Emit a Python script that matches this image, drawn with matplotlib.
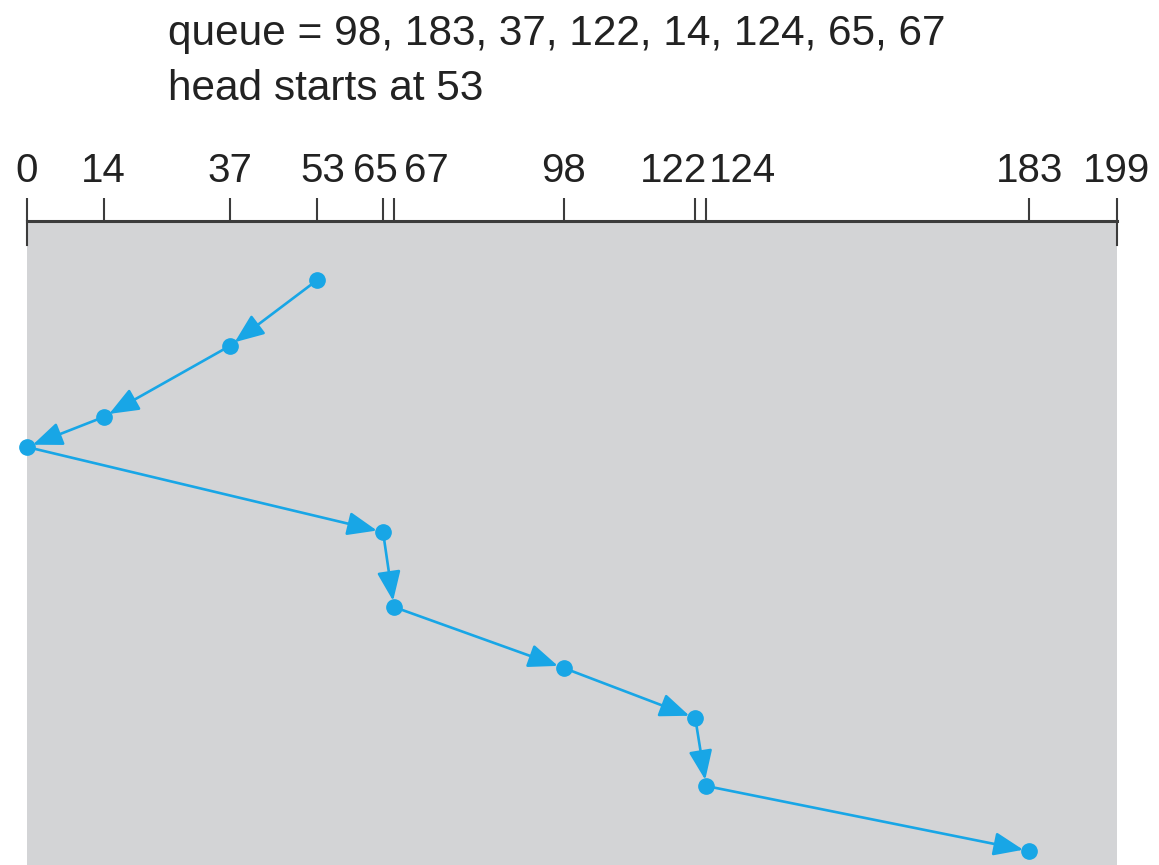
import matplotlib
matplotlib.use("Agg")
import matplotlib.pyplot as plt

plt.rcParams['font.family'] = ['Liberation Sans', 'DejaVu Sans']

# request queue and head start (SCAN scheduling)
queue = [98, 183, 37, 122, 14, 124, 65, 67]
head_start = 53
max_cyl = 199

# order in which cylinders are visited, and the time at which each is reached
visit_order = [53, 37, 14, 0, 65, 67, 98, 122, 124, 183]
visit_time = [59, 125, 196, 226, 311, 386, 447, 497, 565, 630]
time_end = 644

tick_values = [0, 14, 37, 53, 65, 67, 98, 122, 124, 183, 199]
# small sideways nudges (in pixels) so crowded labels do not overlap
label_shift = {53: 6, 65: -8, 67: 32, 122: -22, 124: 36}

blue = '#18a6e6'
dark = '#3c3c3c'

fig = plt.figure(figsize=(11.59, 8.65), dpi=100)
ax = fig.add_axes([27 / 1159, 0, 1090 / 1159, time_end / 865])
ax.set_facecolor('#d3d4d6')
ax.set_xlim(0, max_cyl)
ax.set_ylim(time_end, 0)

for side in ['left', 'right', 'bottom']:
    ax.spines[side].set_visible(False)
ax.spines['top'].set_color(dark)
ax.spines['top'].set_linewidth(2.2)

ax.set_yticks([])
ax.xaxis.set_ticks_position('top')
ax.set_xticks(tick_values)
ax.tick_params(axis='x', direction='out', length=16.5, width=1.5, color=dark,
               labeltop=False, labelbottom=False)

# end marks go down into the shaded area too
for v in [0, max_cyl]:
    ax.axvline(v, ymin=1 - 24 / time_end, ymax=1, color=dark, lw=1.5, clip_on=False)

for v in tick_values:
    ax.annotate(str(v), xy=(v, 1), xycoords=('data', 'axes fraction'),
                xytext=(label_shift.get(v, 0) * 0.72, 28), textcoords='offset points',
                ha='center', va='baseline', fontsize=29, color='#222222',
                annotation_clip=False)

# head movement
for i in range(1, len(visit_order)):
    ax.annotate('', xy=(visit_order[i], visit_time[i]),
                xytext=(visit_order[i - 1], visit_time[i - 1]),
                arrowprops=dict(arrowstyle='-|>,head_length=0.95,head_width=0.38',
                                mutation_scale=19, color=blue, lw=1.9,
                                shrinkA=0, shrinkB=4.5),
                annotation_clip=False)
ax.plot(visit_order, visit_time, 'o', color=blue, markersize=11, clip_on=False)

fig.text(168 / 1159, 1 - 45 / 865, 'queue = ' + ', '.join(str(q) for q in queue),
         fontsize=30.5, color='#222222', va='baseline')
fig.text(168 / 1159, 1 - 100 / 865, 'head starts at %d' % head_start,
         fontsize=30.5, color='#222222', va='baseline')

fig.savefig('out.png', dpi=100)
